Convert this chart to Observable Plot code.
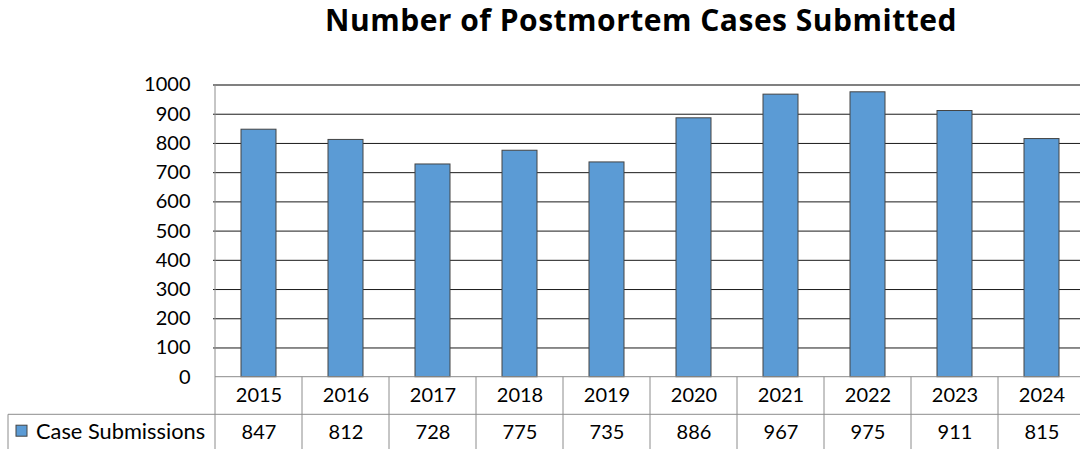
<!DOCTYPE html>
<html>
<head>
<meta charset="utf-8">
<script src="https://cdn.jsdelivr.net/npm/d3@7"></script>
<script src="https://cdn.jsdelivr.net/npm/@observablehq/plot@0.6"></script>
<style>
html, body { margin: 0; padding: 0; background: #fff; overflow: hidden; }
#title { width: 1080px; height: 48px; box-sizing: border-box; padding-left: 202px; padding-top: 0px;
  text-align: center; font-family: "Open Sans", Lato, sans-serif; font-weight: 700; font-size: 30px; letter-spacing: 0.5px; line-height: 40px; color: #000; white-space: nowrap; }
#chart svg { display: block; }
</style>
</head>
<body>
<div id="title">Number of Postmortem Cases Submitted</div>
<div id="chart"></div>
<script>
const years = ["2015", "2016", "2017", "2018", "2019", "2020", "2021", "2022", "2023", "2024"];
const submissions = [847, 812, 728, 775, 735, 886, 967, 975, 911, 815];
const seriesName = "Case Submissions";
const yTicks = [0, 100, 200, 300, 400, 500, 600, 700, 800, 900, 1000];

const data = years.map((year, i) => ({ year, value: submissions[i] }));
const font = "Lato, 'Open Sans', sans-serif";
const barFill = "#5B9BD5";

const plot = Plot.plot({
  width: 1080,
  height: 401,
  marginTop: 36.5,
  marginBottom: 72.3,
  marginLeft: 213,
  marginRight: -6,
  style: { fontFamily: font, fontSize: "20px", color: "#000", background: "#fff" },
  x: { type: "band", domain: years, padding: 0, axis: null },
  y: { domain: [0, 1000], label: null },
  marks: [
    Plot.gridY(yTicks.filter(d => d > 0 && d < 1000), { stroke: "#1a1a1a", strokeOpacity: 1 }),
    Plot.gridY([1000], { stroke: "#808080", strokeOpacity: 1, strokeWidth: 2 }),
    Plot.barY(data, { x: "year", y: "value", fill: barFill, stroke: "#444", strokeWidth: 1, insetLeft: 26, insetRight: 26 }),
    Plot.axisY({ ticks: yTicks, tickSize: 0, tickPadding: 23, label: null, fontSize: 20, tickFormat: d => String(d) }),
    Plot.text(data, { x: "year", frameAnchor: "bottom", lineAnchor: "middle", dy: 18.8, text: "year", fontSize: 20 }),
    Plot.text(data, { x: "year", frameAnchor: "bottom", lineAnchor: "middle", dy: 55.3, text: d => String(d.value), fontSize: 20 })
  ]
});

document.getElementById("chart").appendChild(plot);

// Data table grid below the plot, positioned through Plot's scales
const xs = plot.scale("x");
const ys = plot.scale("y");
const svg = d3.select(plot);
const y0 = ys.apply(0);
const yTop = ys.apply(1000);
const rowH = 37.6;
const H = 401;
const starts = years.map(y => xs.apply(y));
const xEnd = starts[starts.length - 1] + xs.bandwidth;
const g = svg.append("g").attr("stroke", "#8c8c8c").attr("stroke-width", 1).attr("fill", "none");
g.append("line").attr("x1", starts[0]).attr("x2", starts[0]).attr("y1", yTop).attr("y2", H);
starts.slice(1).concat([xEnd]).forEach(x => {
  g.append("line").attr("x1", x).attr("x2", x).attr("y1", y0).attr("y2", H);
});
g.append("line").attr("x1", starts[0]).attr("x2", xEnd).attr("y1", y0).attr("y2", y0);
g.append("line").attr("x1", 8).attr("x2", xEnd).attr("y1", y0 + rowH).attr("y2", y0 + rowH);
g.append("line").attr("x1", 8).attr("x2", 8).attr("y1", y0 + rowH).attr("y2", H);
svg.append("rect").attr("x", 16).attr("y", y0 + 48.5).attr("width", 11).attr("height", 11)
  .attr("fill", barFill).attr("stroke", "#444").attr("stroke-width", 1);
svg.append("text").attr("x", 36).attr("y", y0 + 55.3).attr("dy", "0.32em").attr("text-anchor", "start")
  .attr("font-family", font).attr("font-size", 21.8).attr("fill", "#000").text(seriesName);
</script>
</body>
</html>
